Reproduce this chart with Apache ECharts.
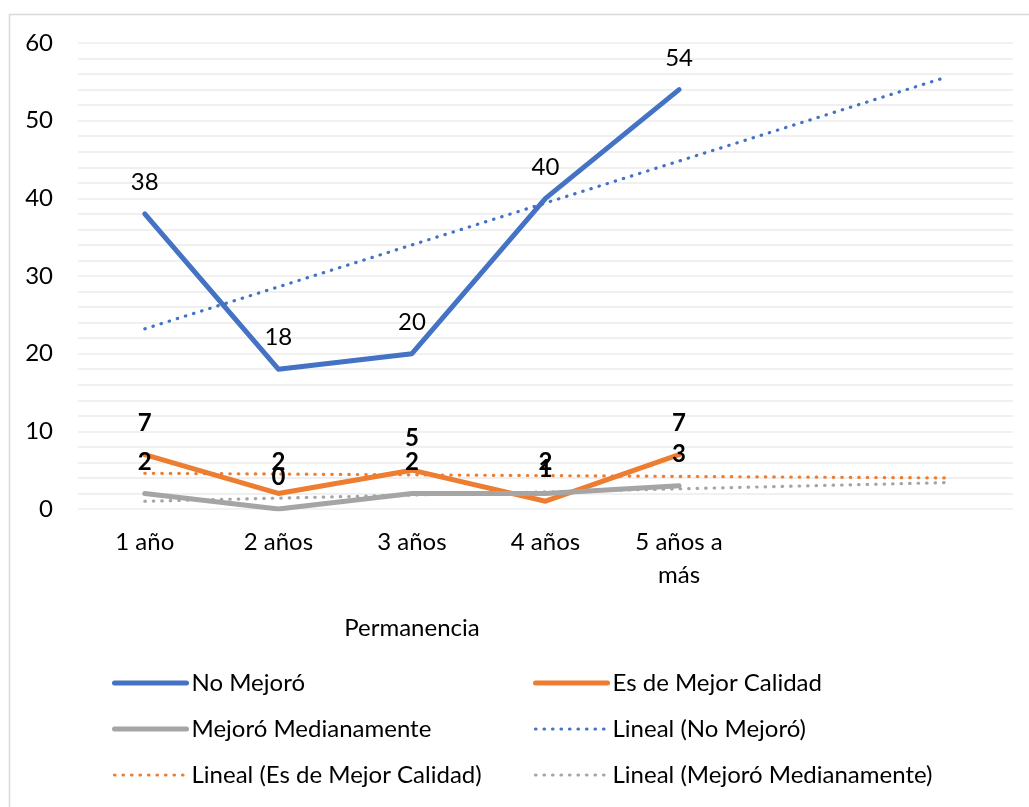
<!DOCTYPE html>
<html>
<head>
<meta charset="utf-8">
<script src="https://cdn.jsdelivr.net/npm/echarts@6/dist/echarts.min.js"></script>
<style>
  html, body { margin: 0; padding: 0; background: #fff; }
  #chart { width: 1029px; height: 807px; }
</style>
</head>
<body>
<div id="chart"></div>
<script>
  // categories (two empty slots at the end: trend forecast)
  const categories = ['1 año', '2 años', '3 años', '4 años', '5 años a\nmás', '', ''];
  const noMejoro = [38, 18, 20, 40, 54];
  const mejorCalidad = [7, 2, 5, 1, 7];
  const medianamente = [2, 0, 2, 2, 3];
  // trend line endpoints
  const trendNoMejoro = [23.2, null, null, null, null, null, 55.6];
  const trendMejorCalidad = [4.6, null, null, null, null, null, 4.0];
  const trendMedianamente = [1.0, null, null, null, null, null, 3.4];
  const yTicks = [0, 10, 20, 30, 40, 50, 60];

  const font = 'Lato, "Open Sans", sans-serif';
  const fs = 24;
  const blue = '#4472C4', orange = '#ED7D31', gray = '#A5A5A5';

  function mainLine(name, data, color, bold) {
    return {
      name: name,
      type: 'line',
      data: data,
      symbol: 'circle',
      symbolSize: 1,
      showSymbol: true,
      itemStyle: { color: color },
      lineStyle: { color: color, width: 5, cap: 'round', join: 'round' },
      label: {
        show: true,
        position: 'top',
        distance: 19,
        color: '#000',
        fontFamily: font,
        fontSize: fs,
        fontWeight: bold ? 'bold' : 'normal'
      }
    };
  }

  function trendLine(name, data, color) {
    return {
      name: name,
      type: 'line',
      data: data,
      connectNulls: true,
      symbol: 'none',
      silent: true,
      itemStyle: { color: color },
      lineStyle: { color: color, width: 3.2, type: [0.5, 8], cap: 'round' }
    };
  }

  const legendBase = {
    top: 671, orient: 'vertical', padding: 0,
    itemWidth: 72, itemHeight: 24, itemGap: 22,
    selectedMode: false,
    itemStyle: { opacity: 0 },
    lineStyle: { width: 'inherit' },
    textStyle: { color: '#000', fontFamily: font, fontSize: fs, lineHeight: 24 }
  };

  const chart = echarts.init(document.getElementById('chart'));
  chart.setOption({
    animation: false,
    backgroundColor: '#fff',
    textStyle: { fontFamily: font },
    graphic: [
      {
        type: 'rect',
        shape: { x: 9.5, y: 14.5, width: 1040, height: 820 },
        style: { fill: 'none', stroke: '#d9d9d9', lineWidth: 1.5 },
        silent: true
      },
      {
        type: 'text',
        x: 412, y: 628,
        style: {
          text: 'Permanencia', fontFamily: font, fontSize: fs, fill: '#000',
          align: 'center', verticalAlign: 'middle'
        }
      }
    ],
    grid: { left: 78, right: 16, top: 43, bottom: 298 },
    xAxis: {
      type: 'category',
      data: categories,
      boundaryGap: true,
      axisLine: { show: false },
      axisTick: { show: false },
      axisLabel: {
        color: '#000', fontFamily: font, fontSize: fs, lineHeight: 33,
        margin: 17, interval: 0
      }
    },
    yAxis: {
      type: 'value',
      min: yTicks[0],
      max: yTicks[yTicks.length - 1],
      interval: 10,
      axisLine: { show: false },
      axisTick: { show: false },
      axisLabel: { color: '#000', fontFamily: font, fontSize: fs, margin: 25 },
      splitLine: { lineStyle: { color: '#ececec', width: 1.5 } },
      minorTick: { show: false, splitNumber: 5 },
      minorSplitLine: { show: true, lineStyle: { color: '#ececec', width: 1.5 } }
    },
    legend: [
      Object.assign({}, legendBase, {
        left: 112,
        data: ['No Mejoró', 'Mejoró Medianamente', 'Lineal (Es de Mejor Calidad)']
      }),
      Object.assign({}, legendBase, {
        left: 533,
        data: ['Es de Mejor Calidad', 'Lineal (No Mejoró)', 'Lineal (Mejoró Medianamente)']
      })
    ],
    series: [
      trendLine('Lineal (No Mejoró)', trendNoMejoro, blue),
      trendLine('Lineal (Es de Mejor Calidad)', trendMejorCalidad, orange),
      trendLine('Lineal (Mejoró Medianamente)', trendMedianamente, gray),
      mainLine('No Mejoró', noMejoro, blue, false),
      mainLine('Es de Mejor Calidad', mejorCalidad, orange, true),
      mainLine('Mejoró Medianamente', medianamente, gray, true)
    ]
  });
</script>
</body>
</html>
